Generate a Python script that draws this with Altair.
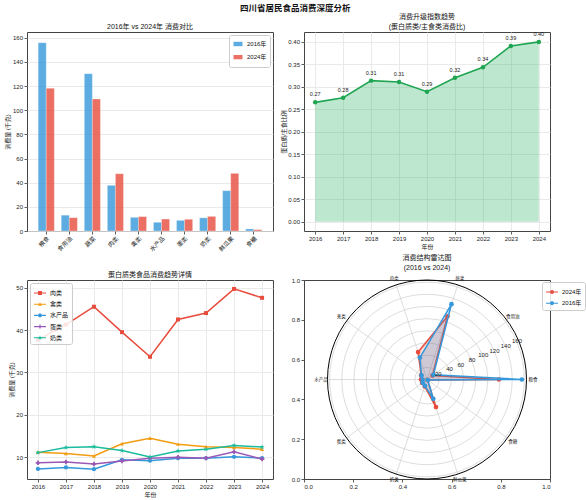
import math
import altair as alt
import pandas as pd

FONT = "Liberation Sans, Noto Sans CJK SC, sans-serif"

# ---------------- data ----------------
categories = ["粮食", "食用油", "蔬菜", "肉类", "禽类", "水产品", "蛋类", "奶类", "鲜瓜果", "食糖"]
consume_2016 = [155.9, 13.1, 130.2, 37.8, 11.3, 7.2, 8.8, 10.9, 33.4, 1.7]
consume_2024 = [118.1, 11.0, 109.2, 47.4, 11.9, 9.9, 9.7, 12.1, 47.7, 1.1]
year_labels = ["2016年", "2024年"]

years = [2016, 2017, 2018, 2019, 2020, 2021, 2022, 2023, 2024]
upgrade_index = [0.2655, 0.2758, 0.3138, 0.3108, 0.2892, 0.3204, 0.3435, 0.3910, 0.4000]

protein_names = ["肉类", "禽类", "水产品", "蛋类", "奶类"]
meat = [37.7, 41.3, 45.5, 39.5, 33.7, 42.5, 44.0, 49.7, 47.6]
poultry = [11.2, 10.9, 10.3, 13.2, 14.5, 13.1, 12.5, 12.3, 11.9]
aquatic = [7.25, 7.6, 7.2, 9.4, 9.2, 9.8, 9.8, 10.1, 9.8]
eggs = [8.7, 8.9, 8.4, 9.1, 9.8, 10.0, 9.8, 11.3, 9.6]
milk = [11.1, 12.3, 12.5, 11.6, 10.1, 11.5, 11.9, 12.8, 12.4]

radar_rings = [20, 40, 60, 80, 100, 120, 140, 160]

# ---------------- style ----------------
W, H = 246, 199
BLUE, RED = "#3498db", "#e74c3c"
prot_colors = ["#e74c3c", "#f39c12", "#3498db", "#9b59b6", "#1abc9c"]


def poly(pts, s=1.0):
    return "M" + "L".join(f"{x * s:.3f},{y * s:.3f}" for x, y in pts) + "Z"


LINE_BAR = "M-1,-0.09L1,-0.09L1,0.09L-1,0.09Z"
square_pts = [(-1, -1), (1, -1), (1, 1), (-1, 1)]
tri_pts = [(0, -1), (1, 0.8), (-1, 0.8)]
circle_pts = [(math.cos(2 * math.pi * k / 16), math.sin(2 * math.pi * k / 16)) for k in range(16)]
cross_pts = [(-0.33, -1), (0.33, -1), (0.33, -0.33), (1, -0.33), (1, 0.33), (0.33, 0.33),
             (0.33, 1), (-0.33, 1), (-0.33, 0.33), (-1, 0.33), (-1, -0.33), (-0.33, -0.33)]
star_pts = []
for k in range(10):
    a = math.radians(-90 + 36 * k)
    rr = 1.0 if k % 2 == 0 else 0.382
    star_pts.append((rr * math.cos(a), rr * math.sin(a)))
STAR = poly(star_pts)

marker_shapes = ["square", "triangle-up", "circle", "cross", STAR]
marker_sizes = [16, 16, 18, 20, 30]
legend_marks = [square_pts, tri_pts, circle_pts, cross_pts, star_pts]
legend_paths = [LINE_BAR + poly(p, 0.33 if i != 4 else 0.42) for i, p in enumerate(legend_marks)]

legend_box = dict(padding=3, strokeColor="#cccccc", fillColor="rgba(255,255,255,0.85)",
                  cornerRadius=2, labelFont=FONT, labelFontSize=6, labelColor="#111",
                  rowPadding=1.2, title=None, labelOffset=3)

# ---------------- panel 1: bars ----------------
df_bar = pd.DataFrame({
    "cat": categories * 2,
    "year": [year_labels[0]] * len(categories) + [year_labels[1]] * len(categories),
    "val": consume_2016 + consume_2024,
})
p1 = alt.Chart(df_bar).mark_bar(opacity=0.8, stroke="white", strokeWidth=0.3).encode(
    x=alt.X("cat:N", sort=categories,
            scale=alt.Scale(paddingInner=0.3, paddingOuter=0.485),
            axis=alt.Axis(title=None, labelAngle=-45, labelAlign="right", labelBaseline="top",
                          grid=False, labelPadding=1)),
    xOffset=alt.XOffset("year:N", sort=year_labels, scale=alt.Scale(paddingInner=0, paddingOuter=0)),
    y=alt.Y("val:Q", scale=alt.Scale(domain=[0, 164.7], nice=False),
            axis=alt.Axis(values=list(range(0, 161, 20)), title="消费量 (千克)", grid=True)),
    color=alt.Color("year:N", scale=alt.Scale(domain=year_labels, range=[BLUE, RED]),
                    legend=alt.Legend(orient="top-right", offset=3, symbolType="M-1,-0.55L1,-0.55L1,0.55L-1,0.55Z",
                                      symbolSize=110, **legend_box)),
).properties(width=W, height=H, title=alt.TitleParams("2016年 vs 2024年 消费对比", offset=2))

# ---------------- panel 2: upgrade index ----------------
df_idx = pd.DataFrame({"year": years, "idx": upgrade_index})
x2 = alt.X("year:Q", scale=alt.Scale(domain=[2015.6, 2024.4], nice=False, zero=False),
           axis=alt.Axis(values=years, format="d", title="年份", grid=True))
y2 = alt.Y("idx:Q", scale=alt.Scale(domain=[-0.0207, 0.422], nice=False, zero=False),
           axis=alt.Axis(values=[round(0.05 * i, 2) for i in range(9)], format=".2f",
                         title="蛋白质/主食比例", grid=True))
base2 = alt.Chart(df_idx)
area2 = base2.mark_area(color="#27ae60", opacity=0.3).encode(x=x2, y=y2, y2=alt.datum(0))
line2 = base2.mark_line(color="#1fa552", strokeWidth=1.6).encode(x=x2, y=y2)
pts2 = base2.mark_point(filled=True, shape="circle", size=20, color="#1fa552", opacity=1).encode(x=x2, y=y2)
txt2 = base2.mark_text(dy=-8, fontSize=5.5, font=FONT, color="#222").encode(
    x=x2, y=y2, text=alt.Text("idx:Q", format=".2f"))
p2 = alt.layer(area2, line2, pts2, txt2).properties(
    width=W, height=H, title=alt.TitleParams(["消费升级指数趋势", "(蛋白质类/主食类消费比)"], offset=2))

# ---------------- panel 3: protein lines ----------------
series = [meat, poultry, aquatic, eggs, milk]
df_prot = pd.DataFrame({
    "year": years * len(protein_names),
    "cat": [n for n in protein_names for _ in years],
    "val": [v for s in series for v in s],
})
xs3 = alt.Scale(domain=[2015.61, 2024.39], nice=False, zero=False)
ys3 = alt.Scale(domain=[4.88, 51.8], nice=False, zero=False)
ax3x = alt.Axis(values=years, format="d", title="年份", grid=True, labelOverlap=False)
ax3y = alt.Axis(values=[10, 20, 30, 40, 50], title="消费量 (千克)", grid=True)
x3 = alt.X("year:Q", scale=xs3, axis=ax3x)
y3 = alt.Y("val:Q", scale=ys3, axis=ax3y)
layers3 = []
for name, col in zip(protein_names, prot_colors):
    layers3.append(
        alt.Chart(df_prot).transform_filter(alt.FieldEqualPredicate(field="cat", equal=name))
        .mark_line(strokeWidth=1.5, color=col).encode(x=x3, y=y3))
for name, col, shp, sz in zip(protein_names, prot_colors, marker_shapes, marker_sizes):
    layers3.append(
        alt.Chart(df_prot).transform_filter(alt.FieldEqualPredicate(field="cat", equal=name))
        .mark_point(filled=True, shape=shp, size=sz, opacity=1, color=col).encode(x=x3, y=y3))
leg3 = dict(orient="top-left", offset=3, symbolSize=144, **legend_box)
layers3.append(
    alt.Chart(df_prot).transform_calculate(xo="1000").mark_point(filled=True, opacity=1, clip=True).encode(
        x=alt.X("xo:Q", scale=xs3, axis=ax3x), y=y3,
        color=alt.Color("cat:N", scale=alt.Scale(domain=protein_names, range=prot_colors),
                        legend=alt.Legend(**leg3)),
        shape=alt.Shape("cat:N", scale=alt.Scale(domain=protein_names, range=legend_paths),
                        legend=alt.Legend(**leg3)))
)
p3 = alt.layer(*layers3).properties(
    width=W, height=H, title=alt.TitleParams("蛋白质类食品消费趋势详情", offset=2))

# ---------------- panel 4: radar ----------------
N = len(categories)
RMAX = 163.5
RPX = H / 2.0
KX = RPX / W
KY = 0.5
df_radar = pd.DataFrame({
    "year": [year_labels[1]] * N + [year_labels[0]] * N,
    "cat": categories * 2,
    "i": list(range(N)) * 2,
    "val": consume_2024 + consume_2016,
})
df_cat = pd.DataFrame({"cat": categories, "i": list(range(N))})
df_rings = pd.DataFrame({"r": radar_rings})

xs4 = alt.Scale(domain=[0, 1], nice=False, zero=False)
ys4 = alt.Scale(domain=[0, 1], nice=False, zero=False)
ax4 = alt.Axis(values=[0, 0.2, 0.4, 0.6, 0.8, 1.0], format=".1f", title=None, grid=False, labelOverlap=False)
ANG = f"datum.i * 2 * PI / {N}"


def X4(f):
    return alt.X(f, type="quantitative", scale=xs4, axis=ax4)


def Y4(f):
    return alt.Y(f, type="quantitative", scale=ys4, axis=ax4)


rings = alt.Chart(df_rings).transform_calculate(
    cx="0.5", cy="0.5",
    sz=f"pow(2 * datum.r / {RMAX} * {RPX}, 2)").mark_point(
    shape="circle", filled=False, stroke="#cfcfcf", strokeWidth=0.7, opacity=1).encode(
    x=X4("cx"), y=Y4("cy"), size=alt.Size("sz:Q", scale=None, legend=None))
outer = alt.Chart(df_cat).transform_aggregate(n="count()").transform_calculate(
    cx="0.5", cy="0.5", sz=f"pow(2 * {RPX}, 2)").mark_point(
    shape="circle", filled=False, stroke="#000000", strokeWidth=1, opacity=1).encode(
    x=X4("cx"), y=Y4("cy"), size=alt.Size("sz:Q", scale=None, legend=None))
spokes = alt.Chart(df_cat).transform_calculate(
    cx="0.5", cy="0.5",
    ex=f"0.5 + {KX} * cos({ANG})", ey=f"0.5 + {KY} * sin({ANG})",
).mark_rule(color="#cfcfcf", strokeWidth=0.7).encode(
    x=X4("cx"), y=Y4("cy"), x2="ex:Q", y2="ey:Q")

calc_xy = dict(px=f"0.5 + {KX} * datum.val / {RMAX} * cos({ANG})",
               py=f"0.5 + {KY} * datum.val / {RMAX} * sin({ANG})")
radar_layers = []
for yl, col in [(year_labels[1], RED), (year_labels[0], BLUE)]:
    sub = alt.Chart(df_radar).transform_filter(
        alt.FieldEqualPredicate(field="year", equal=yl)).transform_calculate(**calc_xy)
    radar_layers.append(
        sub.mark_line(interpolate="linear-closed", strokeWidth=1.5, stroke=col,
                      fill=col, fillOpacity=0.22).encode(
            x=X4("px"), y=Y4("py"), order="i:Q"))
    radar_layers.append(
        sub.mark_point(filled=True, shape="circle", size=22, opacity=1, color=col).encode(
            x=X4("px"), y=Y4("py")))

rlabels = alt.Chart(df_rings).transform_calculate(
    px=f"0.5 + {KX} * datum.r / {RMAX} * cos(PI / 8)",
    py=f"0.5 + {KY} * datum.r / {RMAX} * sin(PI / 8)",
).mark_text(fontSize=6, font=FONT, color="#222", dy=-1).encode(
    x=X4("px"), y=Y4("py"), text="r:Q")
clabels = alt.Chart(df_cat).transform_calculate(
    px=f"0.5 + {KX} * 1.065 * cos({ANG})",
    py=f"0.5 + {KY} * 1.065 * sin({ANG})",
).mark_text(fontSize=4.5, font=FONT, color="#222").encode(
    x=X4("px"), y=Y4("py"), text="cat:N")

leg4 = dict(orient="none", legendX=238, legendY=2, symbolSize=144, **legend_box)
radar_path = LINE_BAR + poly(circle_pts, 0.33)
radar_order = [year_labels[1], year_labels[0]]
leg_layer4 = alt.Chart(df_radar).transform_calculate(px="-5", py="-5").mark_point(
    filled=True, opacity=1, clip=True).encode(
    x=X4("px"), y=Y4("py"),
    color=alt.Color("year:N", scale=alt.Scale(domain=radar_order, range=[RED, BLUE]),
                    legend=alt.Legend(**leg4)),
    shape=alt.Shape("year:N", scale=alt.Scale(domain=radar_order, range=[radar_path, radar_path]),
                    legend=alt.Legend(**leg4)))

p4 = alt.layer(rings, spokes, outer, *radar_layers, rlabels, clabels, leg_layer4).resolve_scale(
    size="independent").properties(
    width=W, height=H, title=alt.TitleParams(["消费结构雷达图", "(2016 vs 2024)"], offset=5))

# ---------------- assemble ----------------
chart = alt.concat(p1, p2, p3, p4, columns=2, spacing={"row": 49, "column": 31}, bounds="flush").resolve_scale(
    color="independent", shape="independent"
).resolve_legend(
    color="independent", shape="independent"
).properties(
    title=alt.TitleParams("四川省居民食品消费深度分析", fontSize=8.5, fontWeight="bold",
                          font=FONT, anchor="middle", offset=0, color="#111"),
    padding={"left": 4, "top": 3, "right": 0, "bottom": 0},
).configure_view(stroke="#444444", strokeWidth=1).configure_axis(
    labelFont=FONT, titleFont=FONT, labelFontSize=6, titleFontSize=6, labelColor="#222",
    titleColor="#222", titleFontWeight="normal", tickSize=3, tickColor="#333", tickWidth=0.8,
    domain=False, gridColor="#e4e4e4", gridWidth=0.8, labelPadding=1.5, titlePadding=1.5,
).configure_title(font=FONT, fontSize=7, fontWeight="normal", color="#111", lineHeight=10,
                  anchor="middle")

chart.save("out.html", embed_options={"renderer": "svg", "actions": False})
